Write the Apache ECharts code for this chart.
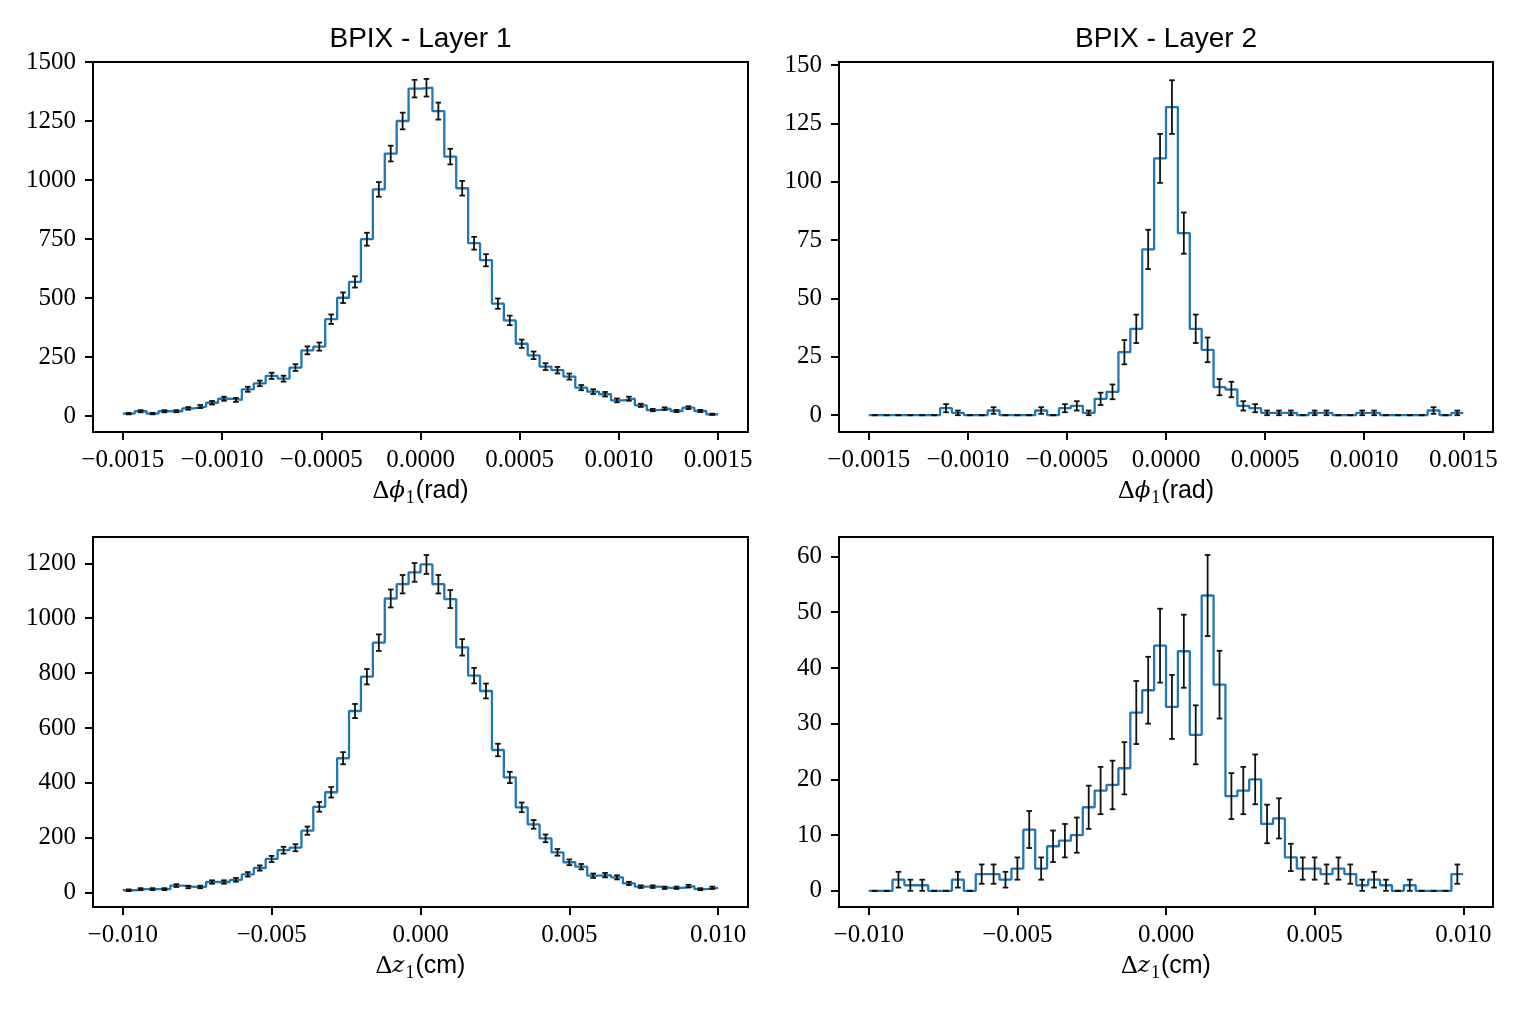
<!DOCTYPE html>
<html><head><meta charset="utf-8">
<script src="https://cdn.jsdelivr.net/npm/echarts@6/dist/echarts.min.js"></script>
<style>html,body{margin:0;padding:0;background:#fff}#c{width:1530px;height:1009px}</style>
</head><body><div id="c"></div>
<script>
// ---- data ----
const phiRange = [-0.0015, 0.0015];
const zRange = [-0.01, 0.01];
const nBins = 50;

const layer1Phi = [10,20,10,20,20,32,40,56,73,68,113,138,170,158,205,278,294,410,501,568,
  749,960,1112,1250,1387,1391,1292,1099,965,732,660,476,405,306,257,209,194,167,120,103,
  92,66,73,45,25,31,21,35,21,7];
const layer2Phi = [0,0,0,0,0,0,3,1,0,0,2,0,0,0,2,0,3,4,1,7,
  10,27,37,71,110,132,78,37,28,12,11,4,3,1,1,1,0,1,1,0,
  0,1,1,0,0,0,0,2,0,1];
const layer1Z = [9,13,13,13,26,21,21,39,39,47,67,90,123,155,164,226,313,366,490,662,
  787,911,1072,1124,1167,1196,1124,1070,894,791,735,520,420,311,249,198,147,111,95,62,
  64,56,34,22,22,18,18,24,13,18];
const layer2Z = [0,0,2,1,1,0,0,2,0,3,3,2,4,11,4,8,9,10,15,18,
  19,22,32,36,44,33,43,28,53,37,17,18,20,12,13,6,4,4,3,4,
  3,1,2,1,0,1,0,0,0,3];

const phiTicks = [-0.0015, -0.0010, -0.0005, 0, 0.0005, 0.0010, 0.0015];
const zTicks = [-0.010, -0.005, 0, 0.005, 0.010];
const yTicksL1Phi = [0,250,500,750,1000,1250,1500];
const yTicksL2Phi = [0,25,50,75,100,125,150];
const yTicksL1Z = [0,200,400,600,800,1000,1200];
const yTicksL2Z = [0,10,20,30,40,50,60];
const titles = ['BPIX - Layer 1', 'BPIX - Layer 2'];

// ---- layout / style ----
const BLUE = '#1f77b4';
const TICKFONT = 'Liberation Serif';
const TICKSIZE = 25;
const grids = [
  {left: 93, top: 62, width: 655, height: 370},
  {left: 839, top: 62, width: 654, height: 370},
  {left: 93, top: 537, width: 655, height: 370},
  {left: 839, top: 537, width: 654, height: 370}
];
const phiName = '{d|Δ}{i|ϕ}{s|1}{t|(rad)}';
const zName = '{d|Δ}{i|z}{s|1}{t|(cm)}';
const panels = [
  {vals: layer1Phi, range: phiRange, xMin: -0.00165, xMax: 0.00165, yMin: -68, yMax: 1500, xTicks: phiTicks, yTicks: yTicksL1Phi, dec: 4, name: phiName},
  {vals: layer2Phi, range: phiRange, xMin: -0.00165, xMax: 0.00165, yMin: -7.2, yMax: 151.3, xTicks: phiTicks, yTicks: yTicksL2Phi, dec: 4, name: phiName},
  {vals: layer1Z, range: zRange, xMin: -0.011, xMax: 0.011, yMin: -52, yMax: 1296, xTicks: zTicks, yTicks: yTicksL1Z, dec: 3, name: zName},
  {vals: layer2Z, range: zRange, xMin: -0.011, xMax: 0.011, yMin: -2.9, yMax: 63.5, xTicks: zTicks, yTicks: yTicksL2Z, dec: 3, name: zName}
];

function fmtX(dec) {
  return function (v) {
    const s = Math.abs(v).toFixed(dec);
    return (v < -1e-12 ? '\u2212' : '') + s;
  };
}
const nameRich = {
  d: {fontFamily: TICKFONT, fontSize: 26, color: '#000'},
  i: {fontFamily: 'DejaVu Serif', fontStyle: 'italic', fontSize: 23, color: '#000'},
  s: {fontFamily: TICKFONT, fontSize: 18, color: '#000', padding: [13, 1, 0, 1]},
  t: {fontFamily: 'Liberation Sans', fontSize: 25, color: '#000'}
};

const xAxes = [], yAxes = [], series = [];
panels.forEach(function (p, k) {
  const lo = p.range[0], hi = p.range[1];
  const w = (hi - lo) / nBins;
  const stepData = [];
  const errData = [];
  for (let i = 0; i < nBins; i++) {
    stepData.push([lo + i * w, p.vals[i]]);
    errData.push([lo + (i + 0.5) * w, p.vals[i], Math.sqrt(p.vals[i])]);
  }
  stepData.push([hi, p.vals[nBins - 1]]);

  xAxes.push({
    gridIndex: k, type: 'value', min: p.xMin, max: p.xMax,
    axisLine: {show: true, onZero: false, lineStyle: {color: '#000', width: 2}},
    axisTick: {show: true, inside: false, length: 8, lineStyle: {color: '#000', width: 2}, customValues: p.xTicks},
    axisLabel: {show: true, customValues: p.xTicks, formatter: fmtX(p.dec), margin: 16,
      fontFamily: TICKFONT, fontSize: TICKSIZE, color: '#000'},
    splitLine: {show: false},
    name: p.name, nameLocation: 'middle', nameGap: 44,
    nameTextStyle: {rich: nameRich, color: '#000'}
  });
  yAxes.push({
    gridIndex: k, type: 'value', min: p.yMin, max: p.yMax,
    axisLine: {show: true, onZero: false, lineStyle: {color: '#000', width: 2}},
    axisTick: {show: true, inside: false, length: 8, lineStyle: {color: '#000', width: 2}, customValues: p.yTicks},
    axisLabel: {show: true, customValues: p.yTicks, margin: 17,
      formatter: function (v) { return String(Math.round(v)); },
      fontFamily: TICKFONT, fontSize: TICKSIZE, color: '#000'},
    splitLine: {show: false}
  });
  series.push({
    type: 'line', xAxisIndex: k, yAxisIndex: k, data: stepData, step: 'end',
    showSymbol: false, symbol: 'none', silent: true, z: 2,
    lineStyle: {color: BLUE, width: 2.3}
  });
  series.push({
    type: 'custom', xAxisIndex: k, yAxisIndex: k, data: errData, silent: true, z: 3,
    encode: {x: 0, y: 1},
    renderItem: function (params, api) {
      const x = api.value(0), y = api.value(1), e = api.value(2);
      const t = api.coord([x, y + e]);
      const b = api.coord([x, y - e]);
      const cw = 2.8;
      const st = {stroke: '#111', lineWidth: 1.8, fill: null};
      return {type: 'group', children: [
        {type: 'line', shape: {x1: t[0], y1: t[1], x2: b[0], y2: b[1]}, style: st},
        {type: 'line', shape: {x1: t[0] - cw, y1: t[1], x2: t[0] + cw, y2: t[1]}, style: st},
        {type: 'line', shape: {x1: b[0] - cw, y1: b[1], x2: b[0] + cw, y2: b[1]}, style: st}
      ]};
    }
  });
});

const chart = echarts.init(document.getElementById('c'), null, {renderer: 'canvas'});
chart.setOption({
  animation: false,
  backgroundColor: '#fff',
  grid: grids.map(function (g) {
    return Object.assign({show: true, borderColor: '#000', borderWidth: 2, backgroundColor: 'transparent', containLabel: false}, g);
  }),
  xAxis: xAxes,
  yAxis: yAxes,
  series: series,
  graphic: [
    {type: 'text', x: grids[0].left + grids[0].width / 2, y: 39,
      style: {text: titles[0], fontFamily: 'Liberation Sans', fontSize: 28, fill: '#000', align: 'center', verticalAlign: 'middle'}},
    {type: 'text', x: grids[1].left + grids[1].width / 2, y: 39,
      style: {text: titles[1], fontFamily: 'Liberation Sans', fontSize: 28, fill: '#000', align: 'center', verticalAlign: 'middle'}}
  ]
});
</script>
</body></html>
